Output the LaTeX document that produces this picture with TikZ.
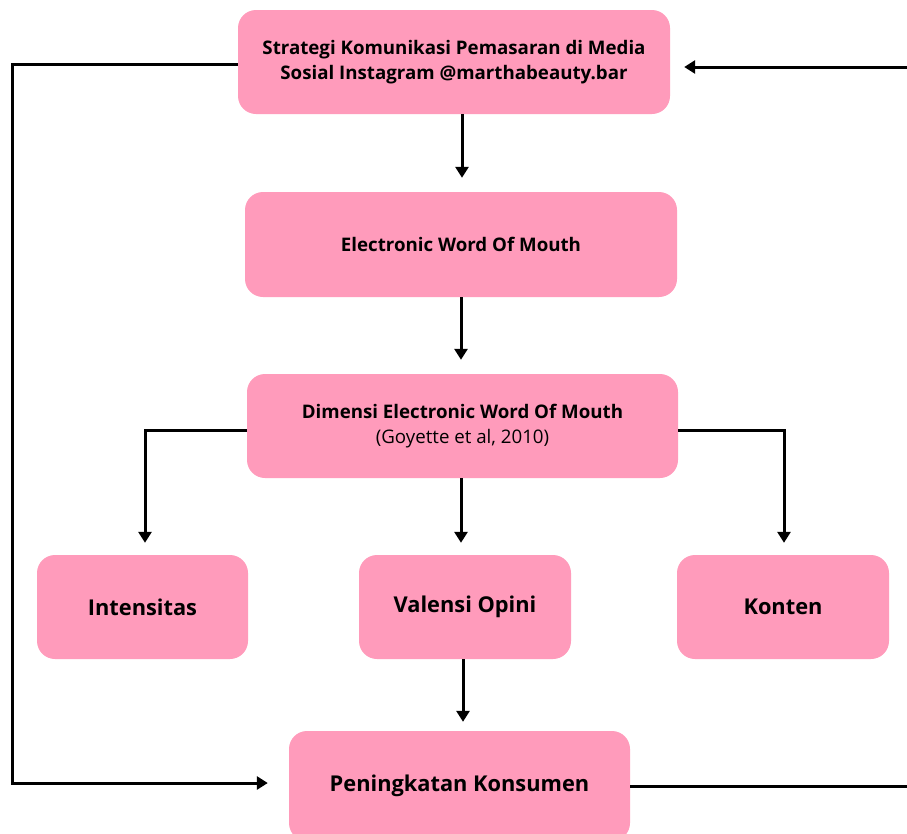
\documentclass[tikz,border=0pt]{standalone}
\usepackage{fontspec}
\setmainfont{Open Sans}
\usetikzlibrary{arrows.meta}
\definecolor{boxpink}{HTML}{FF9BBB}
\begin{document}
\begin{tikzpicture}[x=1pt,y=-1pt,
  box/.style={fill=boxpink, rounded corners=18pt, inner sep=0pt, align=center, text=black},
  small/.style={font=\fontsize{18.7}{25}\selectfont\bfseries},
  big/.style={font=\fontsize{21.8}{26}\selectfont\bfseries},
  conn/.style={line width=3pt, -{Triangle[length=11pt,width=13pt]}}]
\useasboundingbox (0,0) rectangle (907,833);
\node[box, small, minimum width=432pt, minimum height=104pt] (top) at (454,62)
  {Strategi Komunikasi Pemasaran di Media\\Sosial Instagram @marthabeauty.bar};
\node[box, small, minimum width=432pt, minimum height=105pt] (ewom) at (461,244.5)
  {Electronic Word Of Mouth};
\node[box, small, minimum width=431pt, minimum height=104pt] (dim) at (462.5,426)
  {Dimensi Electronic Word Of Mouth\\{\mdseries (Goyette et al, 2010)}};
\node[box, big, minimum width=211pt, minimum height=104pt] (int) at (142.5,607) {Intensitas};
\node[box, big, minimum width=212pt, minimum height=104pt] (val) at (465,607) {Valensi Opini};
\node[box, big, minimum width=212pt, minimum height=104pt] (kon) at (783,607) {Konten};
\node[box, big, minimum width=341pt, minimum height=110pt] (pen) at (459.5,786) {Peningkatan Konsumen};
\coordinate (xa) at (462,0);
\coordinate (xb) at (461,0);
\coordinate (xc) at (463,0);
\coordinate (xl) at (145,0);
\coordinate (xr) at (784,0);
\coordinate (lx) at (12,0);
\coordinate (rx) at (912,0);
\draw[conn, shorten >=14pt] (top.south -| xa) -- (ewom.north -| xa);
\draw[conn, shorten >=14pt] (ewom.south -| xb) -- (dim.north -| xb);
\draw[conn, shorten >=12pt] (dim.south -| xb) -- (val.north -| xb);
\draw[conn, shorten >=12pt] ([yshift=-4pt]dim.west) -| (int.north -| xl);
\draw[conn, shorten >=12pt] ([yshift=-4pt]dim.east) -| (kon.north -| xr);
\draw[conn, shorten >=9pt] (val.south -| xc) -- (pen.north -| xc);
\draw[conn, shorten >=21pt] ([yshift=-2pt]top.west) -| ([yshift=3pt]pen.west -| lx) -- ([yshift=3pt]pen.west);
\draw[conn, shorten >=14pt] (pen.east) -| ([yshift=-5pt]top.east -| rx) -- ([yshift=-5pt]top.east);
\end{tikzpicture}
\end{document}
